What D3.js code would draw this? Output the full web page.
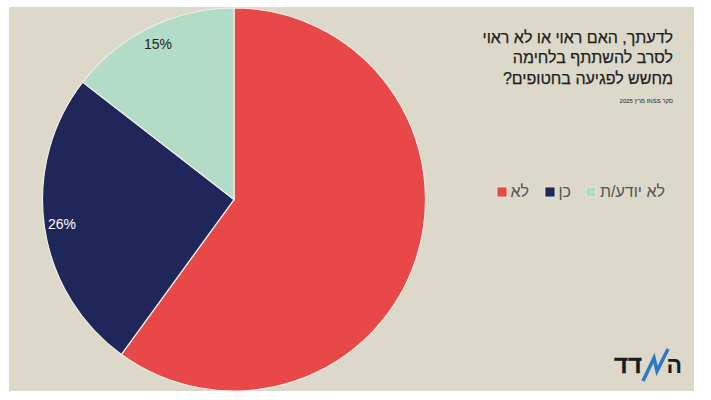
<!DOCTYPE html>
<html><head><meta charset="utf-8">
<script src="https://d3js.org/d3.v7.min.js"></script>
<style>html,body{margin:0;background:#fff}svg{display:block}text{font-family:"Liberation Sans",Arial,sans-serif}</style>
</head><body><svg id="c" width="711" height="400"></svg>
<script>
const categories = ["לא", "כן", "לא יודע/ת"];
const values = [60, 25.5, 14.5];
const sliceLabels = ["", "26%", "15%"];
const colors = ["#e94848", "#1f2659", "#b3dcc8"];
const labelColors = ["#fff", "#fff", "#222"];
const titleLines = ["לדעתך, האם ראוי או לא ראוי", "לסרב להשתתף בלחימה", "מחשש לפגיעה בחטופים?"];
const sourceText = "סקר INSS מרץ 2025";
const legendSquareX = [497, 545, 586];
const legendTextRight = [529, 571, 665];

const svg = d3.select("#c");
svg.append("rect").attr("x",9).attr("y",7).attr("width",685).attr("height",384).attr("fill","#dcd8ca");

const pie = d3.pie().sort(null).value(d=>d)(values);
const arc = d3.arc().innerRadius(0).outerRadius(191.5);
const g = svg.append("g").attr("transform","translate(234,199.5)");
g.selectAll("path").data(pie).join("path").attr("d",arc)
  .attr("fill",(d,i)=>colors[i]).attr("stroke","#f2efe6").attr("stroke-width",1.2);

const labelPos = [null, [-172, 25], [-76, -155.5]];
g.selectAll("text").data(pie).join("text")
  .attr("x",(d,i)=>labelPos[i]?labelPos[i][0]:0)
  .attr("y",(d,i)=>labelPos[i]?labelPos[i][1]:0)
  .attr("dy","0.35em").attr("text-anchor","middle").attr("font-size",14)
  .attr("fill",(d,i)=>labelColors[i]).text((d,i)=>sliceLabels[i]);

svg.append("g").selectAll("text").data(titleLines).join("text")
  .attr("x",673).attr("y",(d,i)=>43+i*20.3).attr("text-anchor","start").attr("direction","rtl")
  .attr("font-size",16).attr("fill","#1d1d1d").attr("stroke","#1d1d1d").attr("stroke-width",0.25).text(d=>d);
svg.append("text").attr("x",673).attr("y",103).attr("text-anchor","start").attr("direction","rtl")
  .attr("font-size",6).attr("fill","#222").text(sourceText);

const lg = svg.append("g");
categories.forEach((c,i)=>{
  lg.append("rect").attr("x",legendSquareX[i]).attr("y",187).attr("width",10).attr("height",10)
    .attr("fill",colors[i]).attr("stroke","#eeece2").attr("stroke-width",0.8);
  lg.append("text").attr("x",legendTextRight[i]).attr("y",197).attr("text-anchor","start").attr("direction","rtl")
    .attr("font-size",16).attr("fill","#555").text(c);
});

const logo = svg.append("g");
logo.append("text").attr("x",682).attr("y",373).attr("text-anchor","start").attr("direction","rtl")
  .attr("font-size",23).attr("font-weight","bold").attr("fill","#1b1b22").text("ה");
logo.append("text").attr("x",642).attr("y",373).attr("text-anchor","start").attr("direction","rtl")
  .attr("font-size",24).attr("font-weight","bold").attr("fill","#1b1b22").attr("stroke","#1b1b22").attr("stroke-width",0.4).text("דד");
logo.append("path").attr("d","M643 381 L654 358 L657 371 L668 349").attr("fill","none")
  .attr("stroke","#2f78c4").attr("stroke-width",3.5);
</script></body></html>
